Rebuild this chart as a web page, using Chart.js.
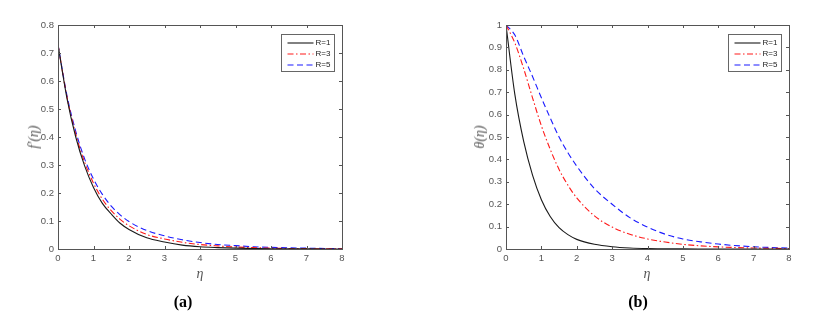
<!DOCTYPE html>
<html>
<head>
<meta charset="utf-8">
<script src="https://cdn.jsdelivr.net/npm/chart.js@4/dist/chart.umd.min.js"></script>
<style>
  html, body { margin: 0; padding: 0; background: #fff; }
  #wrap { position: relative; width: 818px; height: 316px; overflow: hidden; }
  .panel { position: absolute; top: 0; width: 409px; height: 316px; }
  .lbl { position: absolute; transform: translate(-50%, -50%); white-space: nowrap;
         font-family: "Liberation Serif", "DejaVu Serif", serif; color: #555; }
  .ax { font-size: 14px; font-style: italic; }
  .rot { transform: translate(-50%, -50%) rotate(-90deg); }
  .cap { font-size: 16px; font-weight: bold; color: #000; }
</style>
</head>
<body>
<div id="wrap">
  <div class="panel" style="left:0"><canvas id="chartA" width="409" height="316"></canvas></div>
  <div class="panel" style="left:409px"><canvas id="chartB" width="409" height="316"></canvas></div>
  <div class="lbl ax rot" style="left:34px; top:137px">f′(η)</div>
  <div class="lbl ax" style="left:200px; top:274px">η</div>
  <div class="lbl cap" style="left:183px; top:302px">(a)</div>
  <div class="lbl ax rot" style="left:480px; top:137px">θ(η)</div>
  <div class="lbl ax" style="left:647px; top:274px">η</div>
  <div class="lbl cap" style="left:638px; top:302px">(b)</div>
</div>
<script>
// similarity variable
const eta = [0, 0.25, 0.5, 0.75, 1, 1.25, 1.5, 1.75, 2, 2.5, 3, 3.5, 4, 4.5, 5, 5.5, 6, 7, 8];

// (a) velocity profiles f'(eta)
const velR1 = [0.73, 0.54, 0.40, 0.297, 0.22, 0.163, 0.125, 0.092, 0.07, 0.04, 0.025, 0.014, 0.008, 0.005, 0.003, 0.002, 0.001, 0.0003, 0.0001];
const velR3 = [0.73, 0.545, 0.41, 0.31, 0.235, 0.178, 0.137, 0.106, 0.083, 0.052, 0.036, 0.024, 0.016, 0.011, 0.007, 0.005, 0.003, 0.0012, 0.0005];
const velR5 = [0.73, 0.55, 0.42, 0.322, 0.25, 0.195, 0.153, 0.122, 0.098, 0.066, 0.047, 0.033, 0.023, 0.016, 0.012, 0.008, 0.006, 0.003, 0.001];

// (b) temperature profiles theta(eta)
const tempR1 = [1, 0.69, 0.48, 0.33, 0.22, 0.145, 0.095, 0.064, 0.043, 0.021, 0.01, 0.0045, 0.002, 0.001, 0.0005, 0.0002, 0.0001, 0, 0];
const tempR3 = [1, 0.92, 0.805, 0.675, 0.55, 0.445, 0.355, 0.285, 0.228, 0.148, 0.098, 0.066, 0.045, 0.031, 0.021, 0.014, 0.0095, 0.0045, 0.002];
const tempR5 = [1, 0.955, 0.86, 0.77, 0.675, 0.585, 0.5, 0.43, 0.37, 0.27, 0.2, 0.14, 0.098, 0.066, 0.045, 0.032, 0.022, 0.01, 0.004];

const seriesNames = ['R=1', 'R=3', 'R=5'];
const axisColor = '#555';
const tickFont = { family: 'Liberation Sans, Arial, sans-serif', size: 9.5 };

function toPoints(values) {
  return values.map((v, i) => ({ x: eta[i], y: v }));
}

function makeDatasets(lists) {
  const styles = [
    { color: '#1a1a1a', dash: [] },
    { color: '#ff1a1a', dash: [6, 2.5, 1.5, 2.5] },
    { color: '#1a1aff', dash: [6, 3.5] }
  ];
  return lists.map((vals, i) => ({
    label: seriesNames[i],
    data: toPoints(vals),
    borderColor: styles[i].color,
    borderDash: styles[i].dash,
    borderWidth: 1.1,
    pointRadius: 0,
    fill: false,
    cubicInterpolationMode: 'monotone'
  }));
}

// box around the axes, inward ticks on all sides, MATLAB style legend
const matlabFrame = {
  id: 'matlabFrame',
  afterDatasetsDraw(chart) {
    const { ctx, chartArea: a, scales } = chart;
    const tl = 3;
    ctx.save();
    ctx.strokeStyle = axisColor;
    ctx.lineWidth = 1;
    ctx.beginPath();
    scales.x.ticks.forEach(t => {
      const px = Math.round(scales.x.getPixelForValue(t.value)) + 0.5;
      ctx.moveTo(px, a.bottom); ctx.lineTo(px, a.bottom - tl);
      ctx.moveTo(px, a.top); ctx.lineTo(px, a.top + tl);
    });
    scales.y.ticks.forEach(t => {
      const py = Math.round(scales.y.getPixelForValue(t.value)) + 0.5;
      ctx.moveTo(a.left, py); ctx.lineTo(a.left + tl, py);
      ctx.moveTo(a.right, py); ctx.lineTo(a.right - tl, py);
    });
    ctx.stroke();
    ctx.strokeRect(Math.round(a.left) + 0.5, Math.round(a.top) + 0.5,
                   Math.round(a.width), Math.round(a.height));

    // legend
    const bw = 53, bh = 37;
    const bx = Math.round(a.right - 8 - bw) + 0.5, by = Math.round(a.top + 9) + 0.5;
    ctx.fillStyle = '#fff';
    ctx.fillRect(bx, by, bw, bh);
    ctx.strokeStyle = '#666';
    ctx.strokeRect(bx, by, bw, bh);
    ctx.font = '8px Liberation Sans, Arial, sans-serif';
    ctx.textBaseline = 'middle';
    chart.data.datasets.forEach((ds, i) => {
      const ry = by + 8.5 + i * 11;
      ctx.strokeStyle = ds.borderColor;
      ctx.setLineDash(ds.borderDash);
      ctx.lineWidth = 1.1;
      ctx.beginPath();
      ctx.moveTo(bx + 6, ry); ctx.lineTo(bx + 32, ry);
      ctx.stroke();
      ctx.setLineDash([]);
      ctx.fillStyle = '#222';
      ctx.fillText(ds.label, bx + 34, ry);
    });
    ctx.restore();
  }
};

function makeChart(id, lists, yMax, yAxisWidth, rightPad) {
  const ctx = document.getElementById(id).getContext('2d');
  return new Chart(ctx, {
    type: 'line',
    data: { datasets: makeDatasets(lists) },
    options: {
      responsive: false,
      animation: false,
      layout: { padding: { top: 25, right: rightPad, left: 0, bottom: 0 } },
      plugins: { legend: { display: false }, tooltip: { enabled: false } },
      scales: {
        x: {
          type: 'linear', min: 0, max: 8,
          grid: { display: false, drawTicks: false },
          border: { display: false },
          ticks: { stepSize: 1, color: '#555', font: tickFont, padding: 4, maxRotation: 0 },
          afterFit: s => { s.height = 67; }
        },
        y: {
          min: 0, max: yMax,
          grid: { display: false, drawTicks: false },
          border: { display: false },
          ticks: {
            stepSize: 0.1, color: '#555', font: tickFont, padding: 4,
            callback: v => String(Number(v.toFixed(1)))
          },
          afterFit: s => { s.width = yAxisWidth; }
        }
      }
    },
    plugins: [matlabFrame]
  });
}

makeChart('chartA', [velR1, velR3, velR5], 0.8, 58, 67);
makeChart('chartB', [tempR1, tempR3, tempR5], 1, 97, 29);
</script>
</body>
</html>
